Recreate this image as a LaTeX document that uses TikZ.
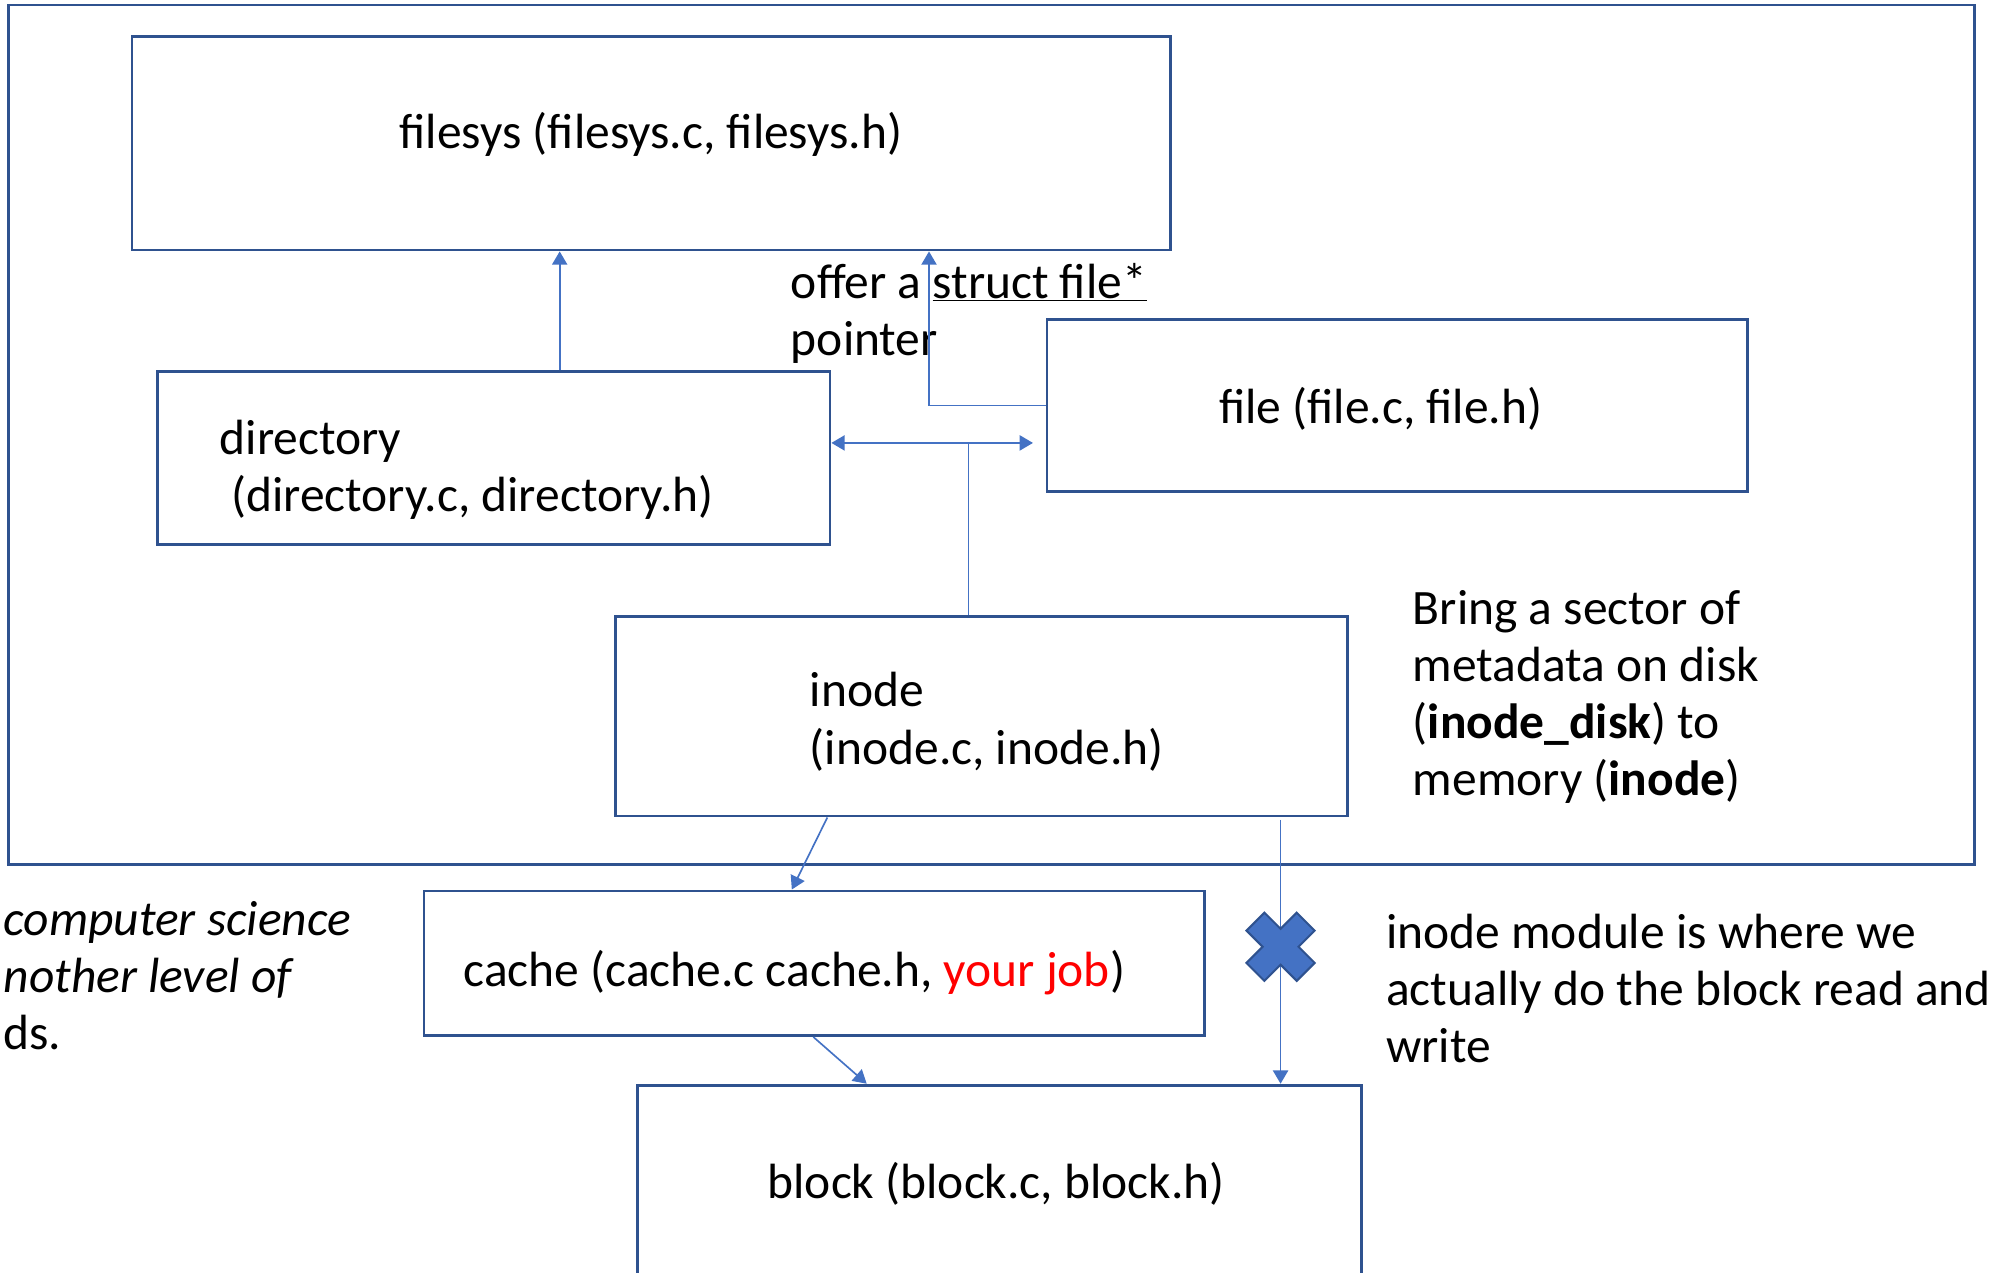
\documentclass[tikz,border=0pt]{standalone}
\usepackage{fontspec}
\setmainfont{Carlito}
\usetikzlibrary{arrows.meta,fit}
\definecolor{boxline}{RGB}{47,82,143}
\definecolor{linkblue}{RGB}{68,114,196}
\definecolor{jobred}{RGB}{255,0,0}
\tikzset{
  box/.style={draw=boxline, line width=2.2pt, rectangle, inner sep=0pt},
  link/.style={draw=linkblue, line width=1.3pt, -{Triangle[length=10.5pt,width=12pt]}},
  plainlink/.style={draw=linkblue, line width=1.3pt},
  % multi-line nodes sit on the baseline of their last line
  txt/.style={inner sep=0pt, anchor=base west, align=left},
  ctxt/.style={inner sep=0pt, anchor=base},
  every node/.style={font=\fontsize{39}{45}\selectfont},
  cutmark/.style={fill=linkblue, draw=boxline, line width=1.6pt, line join=miter},
}
\begin{document}
\begin{tikzpicture}[x=1pt,y=-1pt]
\useasboundingbox (0,0) rectangle (1568,1003);
\fill[white] (0,0) rectangle (1568,1003);
\clip (0,0) rectangle (1568,1003);

% module boxes
\node[box, fit={(7,4) (1556,681)}] (frame) {};
\node[box, fit={(104,29) (922,197)}] (filesys) {};
\node[box, fit={(124,293) (654,429)}] (directory) {};
\node[box, fit={(825,252) (1377,387)}] (file) {};
\node[box, fit={(485,486) (1062,643)}] (inode) {};
\node[box, fit={(334,702) (949,816)}] (cache) {};
\node[box, fit={(502,855) (1073,1015)}] (block) {};

% box captions
\node[ctxt] (filesystxt) at (513,117) {filesys (filesys.c, filesys.h)};
\node[txt] (directorytxt) at (173,403) {directory\\\hspace*{9pt}(directory.c, directory.h)};
\node[ctxt] (filetxt) at (1088,334) {file (file.c, file.h)};
\node[txt] (inodetxt) at (638,602) {inode\\(inode.c, inode.h)};
\node[txt] (cachetxt) at (365,777) {cache (cache.c cache.h, \textcolor{jobred}{your job})};
\node[ctxt] (blocktxt) at (785,944) {block (block.c, block.h)};

% notes
\node[txt] (offer) at (623,280) {offer a \underline{struct file*}\\pointer};
\node[txt] (bring) at (1113,627) {Bring a sector of\\metadata on disk\\(\textbf{inode\_disk}) to\\memory (\textbf{inode})};
\node[txt] (rw) at (1092,837) {inode module is where we\\actually do the block read and\\write};
\node[inner sep=0pt, anchor=base east, align=left] (aside) at (277,827)
  {\itshape computer science\\\itshape nother level of\\ds.};

% column and row helpers for the connectors
\coordinate (cdir) at (441,0);
\coordinate (cfile) at (732,0);
\coordinate (cin) at (763,0);
\coordinate (hy) at (0,349);
\coordinate (cblk) at (1009,0);
\coordinate (cut) at (1009,746);

% connectors
\draw[link] (cdir |- directory.north) -- (cdir |- filesys.south);
\draw[link] (file.west) -| (cfile |- filesys.south);
\draw[plainlink] (cin |- inode.north) -- (cin |- hy);
\draw[link, {Triangle[length=10.5pt,width=12pt]}-{Triangle[length=10.5pt,width=12pt]}, shorten >=10pt]
  (directory.east |- hy) -- (file.west |- hy);
\draw[link] ([xshift=168pt]inode.south west) -- ([xshift=291pt]cache.north west);
\draw[link] ([xshift=308pt]cache.south west) -- ([xshift=182pt]block.north west);
\draw[link] ([yshift=-2pt]cblk |- inode.south) -- (cblk |- block.north);

% cut mark on the inode-to-block path
\draw[cutmark, shift={(cut)}, rotate=45]
  (-10,-28) -- (10,-28) -- (10,-10) -- (28,-10) -- (28,10) -- (10,10) --
  (10,28) -- (-10,28) -- (-10,10) -- (-28,10) -- (-28,-10) -- (-10,-10) -- cycle;
\end{tikzpicture}
\end{document}
